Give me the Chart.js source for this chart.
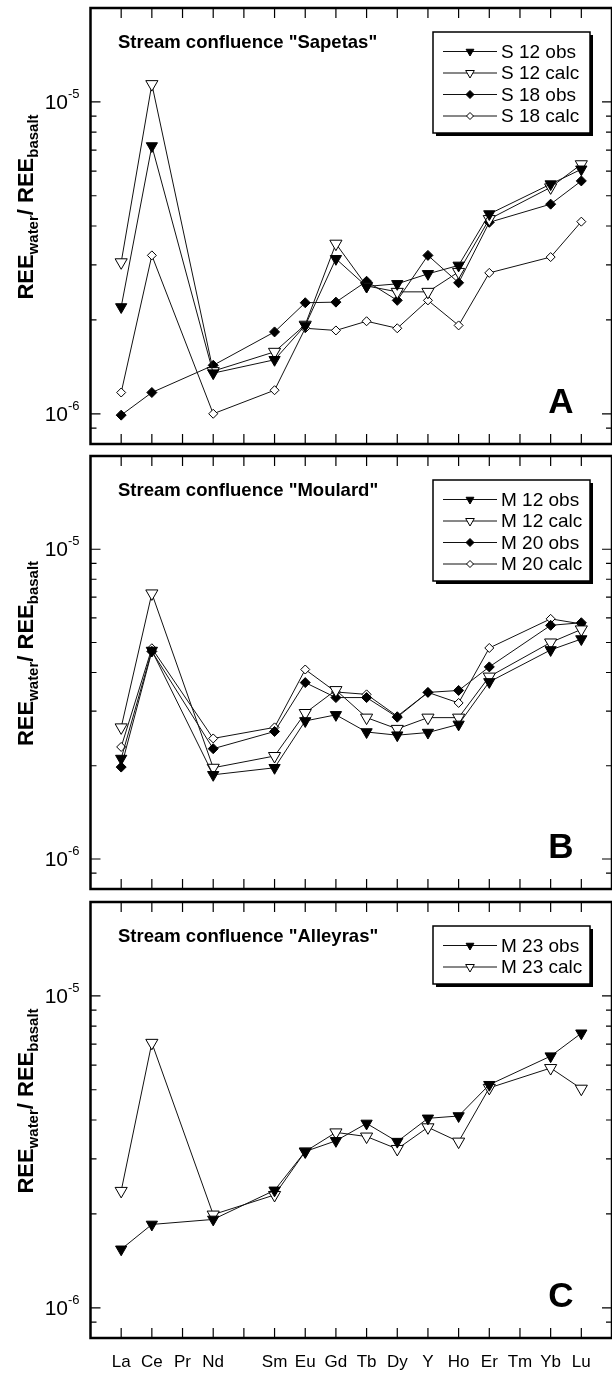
<!DOCTYPE html>
<html>
<head>
<meta charset="utf-8">
<script src="https://cdn.jsdelivr.net/npm/chart.js@4.4.1/dist/chart.umd.min.js"></script>
<style>
  html, body { margin: 0; padding: 0; background: #fff; overflow: hidden; }
  body { width: 612px; height: 1373px; position: relative; }
  canvas { position: absolute; left: 0; }
</style>
</head>
<body>
<canvas id="chartA" width="620" height="452" style="top:0px"></canvas>
<canvas id="chartB" width="620" height="449" style="top:448px"></canvas>
<canvas id="chartC" width="620" height="479" style="top:894px"></canvas>
<script>
// axis positions 1..16 (Pm slot left blank)
const xLabels = ['La', 'Ce', 'Pr', 'Nd', '', 'Sm', 'Eu', 'Gd', 'Tb', 'Dy', 'Y', 'Ho', 'Er', 'Tm', 'Yb', 'Lu'];
// elements that were measured
const elements = ['La', 'Ce', 'Nd', 'Sm', 'Eu', 'Gd', 'Tb', 'Dy', 'Y', 'Ho', 'Er', 'Yb', 'Lu'];

// panel A - Sapetas
const s12obs  = [2.20e-6, 7.22e-6, 1.35e-6, 1.49e-6, 1.92e-6, 3.14e-6, 2.56e-6, 2.61e-6, 2.81e-6, 2.99e-6, 4.37e-6, 5.45e-6, 6.08e-6];
const s12calc = [3.06e-6, 1.14e-5, 1.37e-6, 1.58e-6, 1.93e-6, 3.51e-6, 2.57e-6, 2.46e-6, 2.46e-6, 2.85e-6, 4.21e-6, 5.32e-6, 6.31e-6];
const s18obs  = [0.99e-6, 1.17e-6, 1.43e-6, 1.83e-6, 2.27e-6, 2.28e-6, 2.66e-6, 2.31e-6, 3.22e-6, 2.63e-6, 4.11e-6, 4.70e-6, 5.58e-6];
const s18calc = [1.17e-6, 3.22e-6, 1.00e-6, 1.19e-6, 1.88e-6, 1.85e-6, 1.98e-6, 1.88e-6, 2.31e-6, 1.92e-6, 2.83e-6, 3.18e-6, 4.13e-6];

// panel B - Moulard
const m12obs  = [2.11e-6, 4.71e-6, 1.87e-6, 1.97e-6, 2.79e-6, 2.92e-6, 2.57e-6, 2.51e-6, 2.56e-6, 2.72e-6, 3.73e-6, 4.73e-6, 5.13e-6];
const m12calc = [2.66e-6, 7.20e-6, 1.97e-6, 2.15e-6, 2.96e-6, 3.51e-6, 2.86e-6, 2.63e-6, 2.86e-6, 2.86e-6, 3.88e-6, 5.00e-6, 5.51e-6];
const m20obs  = [1.98e-6, 4.68e-6, 2.27e-6, 2.58e-6, 3.71e-6, 3.32e-6, 3.32e-6, 2.87e-6, 3.45e-6, 3.50e-6, 4.17e-6, 5.68e-6, 5.79e-6];
const m20calc = [2.30e-6, 4.79e-6, 2.45e-6, 2.66e-6, 4.09e-6, 3.46e-6, 3.40e-6, 2.89e-6, 3.45e-6, 3.19e-6, 4.80e-6, 5.96e-6, 5.74e-6];

// panel C - Alleyras
const m23obs  = [1.54e-6, 1.85e-6, 1.92e-6, 2.38e-6, 3.17e-6, 3.43e-6, 3.90e-6, 3.41e-6, 4.05e-6, 4.12e-6, 5.19e-6, 6.41e-6, 7.59e-6];
const m23calc = [2.37e-6, 7.07e-6, 1.99e-6, 2.30e-6, 3.17e-6, 3.65e-6, 3.54e-6, 3.23e-6, 3.79e-6, 3.41e-6, 5.07e-6, 5.87e-6, 5.04e-6];

const yMin = 8e-7, yMax = 2e-5;
const FONT = 'Arial, "Liberation Sans", sans-serif';
const font = (w, s) => w + ' ' + s + 'px ' + FONT;

function pts(vals) {
  return elements.map((el, i) => ({ x: xLabels.indexOf(el) + 1, y: vals[i] }));
}

// marker styles
const obsTri  = { pointStyle: 'triangle', rotation: 180, pointRadius: 6.5, pointBackgroundColor: '#000', legendR: 4.5 };
const calcTri = { pointStyle: 'triangle', rotation: 180, pointRadius: 7, pointBackgroundColor: '#fff', legendR: 5 };
const obsDia  = { pointStyle: 'rectRot', rotation: 0, pointRadius: 5, pointBackgroundColor: '#000', legendR: 4 };
const calcDia = { pointStyle: 'rectRot', rotation: 0, pointRadius: 4.5, pointBackgroundColor: '#fff', legendR: 3.5 };

function ds(label, vals, style) {
  return Object.assign({
    label: label,
    data: pts(vals),
    borderColor: '#111',
    borderWidth: 1,
    pointBorderColor: '#000',
    pointBorderWidth: 1,
    tension: 0,
    fill: false
  }, style);
}

const panelPlugin = {
  id: 'panel',
  afterDraw(chart, args, opts) {
    const ctx = chart.ctx;
    const a = chart.chartArea;
    const xs = chart.scales.x, ys = chart.scales.y;
    ctx.save();
    ctx.strokeStyle = '#000';
    ctx.fillStyle = '#000';

    // inward ticks
    ctx.lineWidth = 1.2;
    ctx.beginPath();
    for (let i = 1; i <= xLabels.length; i++) {
      const px = xs.getPixelForValue(i);
      ctx.moveTo(px, a.top); ctx.lineTo(px, a.top + 10);
      ctx.moveTo(px, a.bottom); ctx.lineTo(px, a.bottom - 10);
    }
    for (let e = -7; e <= -5; e++) {
      for (let n = 1; n <= 9; n++) {
        const v = n * Math.pow(10, e);
        if (v < yMin * 0.999 || v > yMax * 1.001) continue;
        const py = ys.getPixelForValue(v);
        const len = n === 1 ? 10 : 6;
        ctx.moveTo(a.left, py); ctx.lineTo(a.left + len, py);
        ctx.moveTo(a.right, py); ctx.lineTo(a.right - len, py);
      }
    }
    ctx.stroke();

    // frame
    ctx.lineWidth = 2.5;
    ctx.strokeRect(a.left, a.top, a.right - a.left, a.bottom - a.top);

    // y tick labels 10^-6, 10^-5
    [-6, -5].forEach(e => {
      const py = ys.getPixelForValue(Math.pow(10, e));
      ctx.font = font('normal', 21);
      ctx.textAlign = 'right';
      ctx.textBaseline = 'middle';
      ctx.fillText('10', 68, py + 1);
      ctx.font = font('normal', 13);
      ctx.textAlign = 'left';
      ctx.textBaseline = 'alphabetic';
      ctx.fillText('-' + (-e), 68, py - 4);
    });

    // y axis title with subscripts
    const parts = [['REE', 22, 0], ['water', 15, 5], ['/', 22, 0], [' REE', 22, 0], ['basalt', 15, 5]];
    let total = 0;
    parts.forEach(p => { ctx.font = font('bold', p[1]); total += ctx.measureText(p[0]).width; });
    ctx.save();
    ctx.translate(33, (a.top + a.bottom) / 2 - 19);
    ctx.rotate(-Math.PI / 2);
    ctx.textAlign = 'left';
    ctx.textBaseline = 'alphabetic';
    let cx = -total / 2;
    parts.forEach(p => {
      ctx.font = font('bold', p[1]);
      ctx.fillText(p[0], cx, p[2]);
      cx += ctx.measureText(p[0]).width;
    });
    ctx.restore();

    // panel title and letter
    ctx.font = font('bold', 18.5);
    ctx.textAlign = 'left';
    ctx.textBaseline = 'alphabetic';
    ctx.fillText(opts.title, 118, a.top + 40);
    ctx.font = font('bold', 35);
    ctx.textAlign = 'center';
    ctx.fillText(opts.letter, 561, a.bottom - 31);

    // legend box with drop shadow
    const sets = chart.data.datasets;
    const bx = 433, by = a.top + 24, bw = 157, bh = 21.5 * sets.length + 15;
    ctx.fillStyle = '#000';
    ctx.fillRect(bx + 3, by + 3, bw, bh);
    ctx.fillStyle = '#fff';
    ctx.fillRect(bx, by, bw, bh);
    ctx.lineWidth = 1.5;
    ctx.strokeRect(bx, by, bw, bh);
    sets.forEach((d, i) => {
      const ry = by + 19.5 + 21.5 * i;
      ctx.strokeStyle = '#111';
      ctx.lineWidth = 1;
      ctx.beginPath();
      ctx.moveTo(443, ry); ctx.lineTo(497, ry);
      ctx.stroke();
      ctx.fillStyle = d.pointBackgroundColor;
      ctx.strokeStyle = '#000';
      Chart.helpers.drawPoint(ctx, { pointStyle: d.pointStyle, rotation: d.rotation, radius: d.legendR, borderWidth: 1 }, 470, ry);
      ctx.fillStyle = '#000';
      ctx.font = font('normal', 19);
      ctx.textAlign = 'left';
      ctx.textBaseline = 'middle';
      ctx.fillText(d.label, 501, ry + 1);
    });

    // category labels under the bottom panel
    if (opts.showX) {
      ctx.fillStyle = '#000';
      ctx.font = font('normal', 17);
      ctx.textAlign = 'center';
      ctx.textBaseline = 'middle';
      xLabels.forEach((lab, i) => {
        if (lab) ctx.fillText(lab, xs.getPixelForValue(i + 1), a.bottom + 24);
      });
    }
    ctx.restore();
  }
};

function makePanel(id, sets, pad, title, letter, showX) {
  return new Chart(document.getElementById(id).getContext('2d'), {
    type: 'line',
    data: { datasets: sets },
    options: {
      responsive: false,
      animation: false,
      devicePixelRatio: 1,
      layout: { padding: { left: 90.5, right: 5.9, top: pad[0], bottom: pad[1] } },
      scales: {
        x: { type: 'linear', min: 0, max: 17, display: false },
        y: { type: 'logarithmic', min: yMin, max: yMax, display: false }
      },
      plugins: {
        legend: { display: false },
        tooltip: { enabled: false },
        panel: { title: title, letter: letter, showX: showX }
      }
    },
    plugins: [panelPlugin]
  });
}

makePanel('chartA', [
  ds('S 12 obs', s12obs, obsTri),
  ds('S 12 calc', s12calc, calcTri),
  ds('S 18 obs', s18obs, obsDia),
  ds('S 18 calc', s18calc, calcDia)
], [8, 6], 'Stream confluence "Sapetas"', 'A', false);

makePanel('chartB', [
  ds('M 12 obs', m12obs, obsTri),
  ds('M 12 calc', m12calc, calcTri),
  ds('M 20 obs', m20obs, obsDia),
  ds('M 20 calc', m20calc, calcDia)
], [4, 4], 'Stream confluence "Moulard"', 'B', false);

makePanel('chartC', [
  ds('M 23 obs', m23obs, obsTri),
  ds('M 23 calc', m23calc, calcTri)
], [4, 35], 'Stream confluence "Alleyras"', 'C', true);
</script>
</body>
</html>
